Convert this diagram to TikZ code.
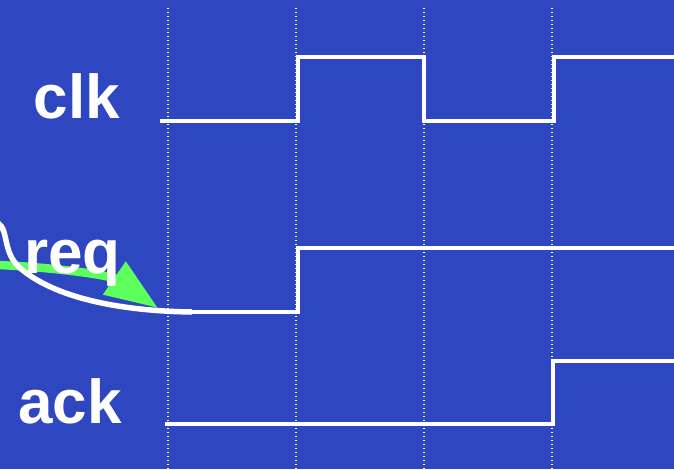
\documentclass[tikz,border=0pt]{standalone}
\usepackage{fontspec}
\setmainfont{Liberation Sans}
\usepackage{tikz}
\usetikzlibrary{arrows.meta}
\definecolor{slideblue}{RGB}{46,70,192}
\definecolor{hintgreen}{RGB}{92,255,92}

\begin{document}
\begin{tikzpicture}[x=1pt,y=-1pt,
		signal/.style={white, line width=4pt},
		gridline/.style={white, line width=1.2pt, dash pattern=on 1.2pt off 2.8pt},
		sig label/.style={text=white, anchor=base east, inner sep=0pt,
			font=\fontsize{62}{62}\selectfont\bfseries}]
		% Background
		\fill[slideblue] (0,0) rectangle (674,469);
		\useasboundingbox (0,0) rectangle (674,469);
		% Draw dotted clock edges
		\foreach \x in {168,296,424,552}
			\draw[gridline] (\x,8) -- (\x,469);
		% Draw waveforms
		\draw[signal] (160,121) -- (298,121) -- (298,57) -- (424,57) -- (424,121) -- (554,121) -- (554,57) -- (674,57);
		\draw[signal] (188,312) -- (298,312) -- (298,248) -- (674,248);
		\draw[signal] (165,424) -- (553,424) -- (553,361) -- (674,361);
		% Green hint arrow
		\coordinate (arrstart) at (-2,265);
		\coordinate (arrtip) at (158,308);
		\draw[hintgreen, line width=8.5pt, -{Triangle[length=53pt,width=38pt]}]
			(arrstart) .. controls (50,267) and (110,275) .. (arrtip);
		% White stroke into req
		\coordinate (hookstart) at (-2,223);
		\coordinate (hookend) at (192,312);
		\draw[white, line width=5.5pt]
			(hookstart) .. controls (9,230) and (2,252) .. (20,268)
			.. controls (55,298) and (120,311) .. (hookend);
		% Labels
		\node[sig label] (clk) at (120,118) {clk};
		\node[sig label] (req) at (121,273) {req};
		\node[sig label] (ack) at (122,423) {ack};
	\end{tikzpicture}
\end{document}
